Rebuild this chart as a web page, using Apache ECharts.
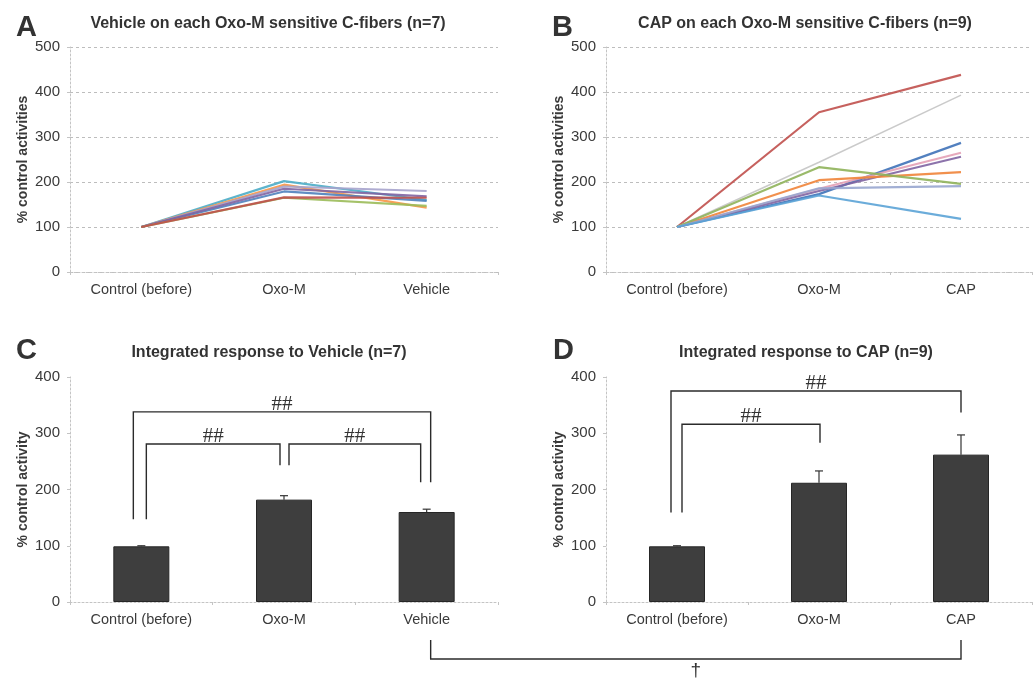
<!DOCTYPE html>
<html>
<head>
<meta charset="utf-8">
<script src="https://cdn.jsdelivr.net/npm/echarts@6/dist/echarts.min.js"></script>
<style>
  html, body { margin: 0; padding: 0; background: #fff; }
  #main { width: 1033px; height: 679px; }
</style>
</head>
<body>
<div id="main"></div>
<script>
// categories
var catsVehicle = ['Control (before)', 'Oxo-M', 'Vehicle'];
var catsCap = ['Control (before)', 'Oxo-M', 'CAP'];
var lineTicks = [0, 100, 200, 300, 400, 500];
var barTicks = [0, 100, 200, 300, 400];

// A: each fiber, vehicle
var vehicleFibers = [
  [100, 202, 160],
  [100, 194, 143],
  [100, 190, 180],
  [100, 179, 158],
  [100, 185, 168],
  [100, 165, 147],
  [100, 166, 165]
];
var vehicleColors = ['#4BACC6', '#F79646', '#A6A3CC', '#4F81BD', '#8064A2', '#9BBB59', '#C0504D'];

// B: each fiber, CAP
var capFibers = [
  [100, 355, 438],
  [100, 244, 393],
  [100, 173, 287],
  [100, 185, 265],
  [100, 180, 256],
  [100, 204, 222],
  [100, 233, 196],
  [100, 186, 191],
  [100, 170, 118]
];
var capColors = ['#C0504D', '#C4C4C4', '#3F72B8', '#E3A0B5', '#8064A2', '#F0843A', '#8FB35A', '#98A6CF', '#5BA3D6'];

// C, D: mean and SEM
var vehicleMean = [99, 182, 160];
var vehicleSem = [1, 7, 5];
var capMean = [99, 212, 262];
var capSem = [1, 21, 35];

// brackets: [fromCat, toCat, topValue, fromLegEnd, toLegEnd]
var bracketsC = [[0, 2, 338, 147, 213], [0, 1, 281, 147, 243], [1, 2, 281, 243, 213]];
var bracketsD = [[0, 2, 375, 159, 337], [0, 1, 316, 159, 283]];
// small leg shifts so the nested brackets don't overlap
var shiftsC = [[-8, 4], [5, -4], [5, -6]];
var shiftsD = [[-6, 0], [5, 1]];

var font = 'Liberation Sans, Arial, sans-serif';
var grids = [
  { left: 70, top: 47, width: 428, height: 225 },
  { left: 606, top: 47, width: 426, height: 225 },
  { left: 70, top: 377, width: 428, height: 225 },
  { left: 606, top: 377, width: 426, height: 225 }
];

function xAxisFor(i, cats) {
  return {
    type: 'category', gridIndex: i, data: cats, boundaryGap: true,
    axisLine: { lineStyle: { color: '#c4c4c4', type: [2, 2] } },
    axisTick: { show: true, length: 3, lineStyle: { color: '#c4c4c4' } },
    axisLabel: { color: '#3a3a3a', fontFamily: font, fontSize: 14.5, margin: 10 }
  };
}
function yAxisFor(i, name, max, grid) {
  return {
    type: 'value', gridIndex: i, min: 0, max: max, interval: 100,
    name: name, nameLocation: 'middle', nameGap: 40, nameRotate: 90,
    nameTextStyle: { color: '#3a3a3a', fontFamily: font, fontSize: 14, fontWeight: 'bold' },
    axisLine: { show: true, lineStyle: { color: '#c4c4c4', type: [2, 2] } },
    axisTick: { show: true, length: 3, lineStyle: { color: '#c4c4c4' } },
    axisLabel: { color: '#3a3a3a', fontFamily: font, fontSize: 15, margin: 10 },
    splitLine: { show: grid, lineStyle: { color: '#bdbdbd', type: [3, 3] } }
  };
}

function lineSeries(fibers, colors, idx) {
  return fibers.map(function (d, k) {
    return {
      type: 'line', xAxisIndex: idx, yAxisIndex: idx, data: d,
      showSymbol: false, silent: true,
      lineStyle: { color: colors[k], width: (colors[k] === '#C4C4C4') ? 1.5 : 2.2, opacity: 0.9 }
    };
  });
}

function barSeries(mean, idx) {
  return {
    type: 'bar', xAxisIndex: idx, yAxisIndex: idx, data: mean, barWidth: 56,
    itemStyle: { color: '#3e3e3e', borderColor: '#262626', borderWidth: 1 }
  };
}

function errorSeries(mean, sem, idx) {
  return {
    type: 'custom', xAxisIndex: idx, yAxisIndex: idx, silent: true,
    data: mean.map(function (m, k) { return [k, m, m + sem[k]]; }),
    encode: { x: 0, y: [1, 2] },
    renderItem: function (params, api) {
      var lo = api.coord([api.value(0), api.value(1)]);
      var hi = api.coord([api.value(0), api.value(2)]);
      var st = { stroke: '#333', lineWidth: 1.2 };
      return {
        type: 'group', children: [
          { type: 'line', shape: { x1: lo[0], y1: lo[1], x2: hi[0], y2: hi[1] }, style: st },
          { type: 'line', shape: { x1: hi[0] - 4, y1: hi[1], x2: hi[0] + 4, y2: hi[1] }, style: st }
        ]
      };
    }
  };
}

function bracketSeries(brackets, shifts, idx) {
  return {
    type: 'custom', xAxisIndex: idx, yAxisIndex: idx, silent: true,
    data: brackets, encode: { x: [0, 1], y: [2, 3, 4] },
    renderItem: function (params, api) {
      var sh = shifts[params.dataIndex];
      var a = api.coord([api.value(0), api.value(3)]);
      var b = api.coord([api.value(1), api.value(4)]);
      var top = api.coord([api.value(0), api.value(2)])[1];
      var x1 = a[0] + sh[0], x2 = b[0] + sh[1];
      return {
        type: 'group', children: [
          { type: 'polyline', shape: { points: [[x1, a[1]], [x1, top], [x2, top], [x2, b[1]]] },
            style: { stroke: '#2b2b2b', lineWidth: 1.4, fill: null } },
          { type: 'text', x: (x1 + x2) / 2, y: top + 3,
            style: { text: '##', fill: '#333', font: '21px Liberation Serif', align: 'center', verticalAlign: 'bottom' } }
        ]
      };
    }
  };
}

var chart = echarts.init(document.getElementById('main'), null, { renderer: 'canvas' });

var titleStyle = { color: '#333', fontFamily: font, fontSize: 16, fontWeight: 'bold' };
var letterStyle = { color: '#333', fontFamily: font, fontSize: 29, fontWeight: 'bold' };

var option = {
  animation: false,
  backgroundColor: '#fff',
  title: [
    { text: 'A', left: 11, top: 8, textStyle: letterStyle },
    { text: 'B', left: 547, top: 8, textStyle: letterStyle },
    { text: 'C', left: 11, top: 331, textStyle: letterStyle },
    { text: 'D', left: 548, top: 331, textStyle: letterStyle },
    { text: 'Vehicle on each Oxo-M sensitive C-fibers (n=7)', left: 263, textAlign: 'center', top: 11, textStyle: titleStyle },
    { text: 'CAP on each Oxo-M sensitive C-fibers (n=9)', left: 800, textAlign: 'center', top: 11, textStyle: titleStyle },
    { text: 'Integrated response to Vehicle (n=7)', left: 264, textAlign: 'center', top: 340, textStyle: titleStyle },
    { text: 'Integrated response to CAP (n=9)', left: 801, textAlign: 'center', top: 340, textStyle: titleStyle }
  ],
  grid: grids,
  xAxis: [xAxisFor(0, catsVehicle), xAxisFor(1, catsCap), xAxisFor(2, catsVehicle), xAxisFor(3, catsCap)],
  yAxis: [
    yAxisFor(0, '% control activities', lineTicks[lineTicks.length - 1], true),
    yAxisFor(1, '% control activities', lineTicks[lineTicks.length - 1], true),
    yAxisFor(2, '% control activity', barTicks[barTicks.length - 1], false),
    yAxisFor(3, '% control activity', barTicks[barTicks.length - 1], false)
  ],
  series: [].concat(
    lineSeries(vehicleFibers, vehicleColors, 0),
    lineSeries(capFibers, capColors, 1),
    [barSeries(vehicleMean, 2), errorSeries(vehicleMean, vehicleSem, 2), bracketSeries(bracketsC, shiftsC, 2)],
    [barSeries(capMean, 3), errorSeries(capMean, capSem, 3), bracketSeries(bracketsD, shiftsD, 3)]
  )
};
chart.setOption(option);

// bracket across panels C and D (Vehicle vs CAP)
var pV = chart.convertToPixel({ xAxisIndex: 2, yAxisIndex: 2 }, [2, 0]);
var pC = chart.convertToPixel({ xAxisIndex: 3, yAxisIndex: 3 }, [2, 0]);
var xL = pV[0] + 4, xR = pC[0], yTop = pV[1] + 38, yLine = pV[1] + 57;
chart.setOption({
  graphic: [
    { type: 'polyline', silent: true,
      shape: { points: [[xL, yTop], [xL, yLine], [xR, yLine], [xR, yTop]] },
      style: { stroke: '#2b2b2b', lineWidth: 1.4, fill: null } },
    { type: 'text', silent: true, x: (xL + xR) / 2, y: yLine + 2,
      style: { text: '†', fill: '#333', font: '19px Liberation Sans', align: 'center', verticalAlign: 'top' } }
  ]
});
</script>
</body>
</html>
